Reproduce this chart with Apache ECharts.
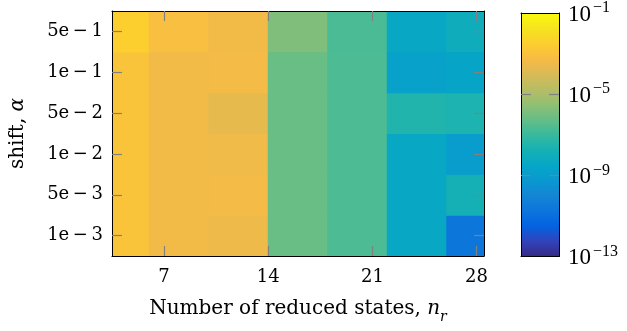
<!DOCTYPE html>
<html><head><meta charset="utf-8">
<script src="https://cdn.jsdelivr.net/npm/echarts@6/dist/echarts.min.js"></script>
<style>html,body{margin:0;padding:0;background:#fff}#c{width:627px;height:331px}</style>
</head><body><div id="c"></div>
<script>
// number of reduced states (cell centres)
const nr = [4, 8, 12, 16, 20, 24, 28];
// shift values, bottom to top
const shifts = ['1e\u2009−\u20093', '5e\u2009−\u20093', '1e\u2009−\u20092', '5e\u2009−\u20092', '1e\u2009−\u20091', '5e\u2009−\u20091'];
const xTicks = [7, 14, 21, 28];
const cbLabels = [-13, -9, -5, -1];
const cbTicks = [-9, -5];
// log10 of error per shift row, across nr
const err_1e3 = [-2.9, -3.4, -3.5, -6.2, -6.65, -8.4, -10.7];
const err_5e3 = [-2.9, -3.4, -3.35, -6.2, -6.65, -8.4, -7.8];
const err_1e2 = [-2.9, -3.4, -3.45, -6.2, -6.65, -8.4, -9.0];
const err_5e2 = [-2.9, -3.4, -3.65, -6.2, -6.65, -7.5, -7.6];
const err_1e1 = [-2.9, -3.4, -3.35, -6.2, -6.65, -8.8, -8.6];
const err_5e1 = [-2.5, -3.1, -3.4, -5.8, -6.7, -8.4, -8.05];
const parula = ['#352A87','#3243BA','#0363E1','#0D75DC','#1485D4','#0998D1','#06A7C6','#15B1B4',
  '#38B99E','#65BE86','#92BF73','#B7BD64','#D9BA56','#F8BB44','#FCCE2E','#F5E41D','#F9FB0E'];

const rows = [err_1e3, err_5e3, err_1e2, err_5e2, err_1e1, err_5e1];
const cells = [];
rows.forEach((r, j) => r.forEach((v, i) => cells.push([nr[i], j, v])));

const FONT = 'DejaVu Serif';
const CBFONT = 'Liberation Serif';
const tickStyle = {show: true, inside: true, length: 10, lineStyle: {color: '#808080', width: 1.2}};
const lineStyle = {show: true, onZero: false, lineStyle: {color: '#000', width: 1}};

const chart = echarts.init(document.getElementById('c'), null, {renderer: 'canvas'});
chart.setOption({
  animation: false,
  textStyle: {fontFamily: FONT, color: '#000'},
  grid: [
    {left: 110, top: 11, width: 374, height: 245},
    {left: 521, top: 11, width: 38, height: 245.5}
  ],
  visualMap: {show: false, type: 'continuous', min: -13, max: -1, dimension: 2, seriesIndex: 0,
    inRange: {color: parula}},
  xAxis: [
    {gridIndex: 0, type: 'value', min: 3.5, max: 28.5, position: 'bottom', z: 5,
      axisLine: lineStyle, splitLine: {show: false},
      axisTick: Object.assign({customValues: xTicks}, tickStyle),
      axisLabel: {customValues: xTicks, fontFamily: FONT, fontSize: 18, color: '#000', margin: 12},
      name: '{t|Number of reduced states, }{i|n}{r|r}', nameLocation: 'middle', nameGap: 43,
      nameTextStyle: {rich: {
        t: {fontFamily: FONT, fontSize: 20, color: '#000', lineHeight: 24, verticalAlign: 'top'},
        i: {fontFamily: FONT, fontSize: 20, fontStyle: 'italic', color: '#000', lineHeight: 24, verticalAlign: 'top'},
        r: {fontFamily: FONT, fontSize: 14, fontStyle: 'italic', color: '#000', lineHeight: 25, verticalAlign: 'bottom'}
      }}},
    {gridIndex: 0, type: 'value', min: 3.5, max: 28.5, position: 'top', z: 5,
      axisLine: lineStyle, splitLine: {show: false},
      axisTick: Object.assign({customValues: xTicks}, tickStyle),
      axisLabel: {show: false}},
    {gridIndex: 1, type: 'value', min: 0, max: 1, position: 'bottom', z: 5,
      axisLine: lineStyle, splitLine: {show: false}, axisTick: {show: false}, axisLabel: {show: false}},
    {gridIndex: 1, type: 'value', min: 0, max: 1, position: 'top', z: 5,
      axisLine: lineStyle, splitLine: {show: false}, axisTick: {show: false}, axisLabel: {show: false}}
  ],
  yAxis: [
    {gridIndex: 0, type: 'category', data: shifts, position: 'left', z: 5,
      axisLine: lineStyle,
      axisTick: Object.assign({alignWithLabel: true}, tickStyle),
      axisLabel: {fontFamily: FONT, fontSize: 18, color: '#000', margin: 9},
      name: '{t|shift, }{i|α}', nameLocation: 'middle', nameGap: 84, nameRotate: 90,
      nameTextStyle: {rich: {
        t: {fontFamily: FONT, fontSize: 20, color: '#000'},
        i: {fontFamily: FONT, fontSize: 20, fontStyle: 'italic', color: '#000'}
      }}},
    {gridIndex: 0, type: 'category', data: shifts, position: 'right', z: 5,
      axisLine: lineStyle,
      axisTick: Object.assign({alignWithLabel: true}, tickStyle),
      axisLabel: {show: false}},
    {gridIndex: 1, type: 'value', min: -13, max: -1, position: 'right', z: 5,
      axisLine: lineStyle, splitLine: {show: false},
      axisTick: Object.assign({customValues: cbTicks}, tickStyle),
      axisLabel: {customValues: cbLabels, margin: 9,
        formatter: v => '{b|10}{s|−' + (-v) + '}',
        rich: {
          b: {fontFamily: CBFONT, fontSize: 23, color: '#000', lineHeight: 26, verticalAlign: 'bottom', padding: [3, 0, 0, 0]},
          s: {fontFamily: CBFONT, fontSize: 16, color: '#000', lineHeight: 16, verticalAlign: 'top', padding: [0, 0, 0, 2]}
        }}},
    {gridIndex: 1, type: 'value', min: -13, max: -1, position: 'left', z: 5,
      axisLine: lineStyle, splitLine: {show: false},
      axisTick: Object.assign({customValues: cbTicks}, tickStyle),
      axisLabel: {show: false}}
  ],
  series: [
    {type: 'custom', xAxisIndex: 0, yAxisIndex: 0, data: cells, z: 2,
      encode: {x: 0, y: 1},
      renderItem: function (params, api) {
        const p = api.coord([api.value(0), api.value(1)]);
        const s = api.size([4, 1]);
        const cs = params.coordSys;
        const r = echarts.graphic.clipRectByRect(
          {x: p[0] - s[0] / 2 - 0.5, y: p[1] - s[1] / 2 - 0.5, width: s[0] + 1, height: s[1] + 1},
          {x: cs.x, y: cs.y, width: cs.width, height: cs.height});
        return r && {type: 'rect', shape: r, style: {fill: api.visual('color')}};
      }},
    {type: 'custom', xAxisIndex: 2, yAxisIndex: 2, data: [[0, -13]], z: 1,
      renderItem: function (params, api) {
        const p0 = api.coord([0, -1]);
        const p1 = api.coord([1, -13]);
        return {type: 'rect', shape: {x: p0[0], y: p0[1], width: p1[0] - p0[0], height: p1[1] - p0[1]},
          style: {fill: new echarts.graphic.LinearGradient(0, 1, 0, 0,
            parula.map((c, i) => ({offset: i / (parula.length - 1), color: c})))}};
      }}
  ]
});
</script></body></html>
